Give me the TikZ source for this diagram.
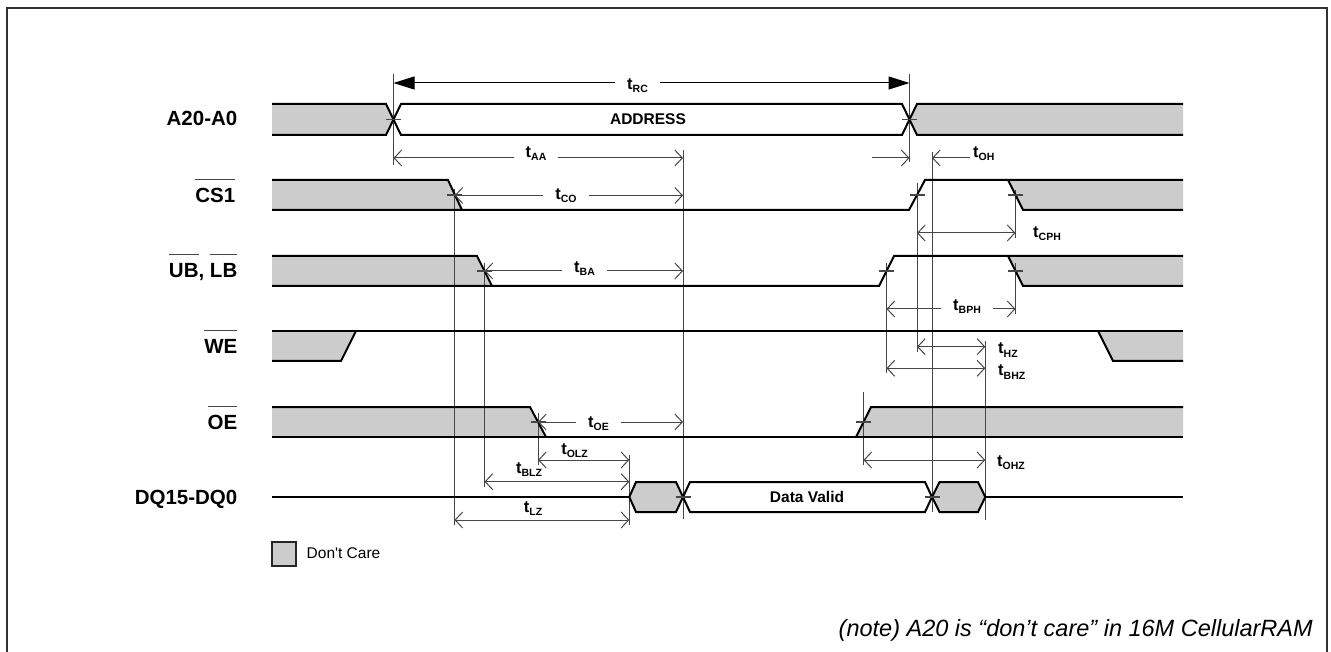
\documentclass[tikz,border=0pt]{standalone}
\usepackage{fontspec}
\setmainfont{Liberation Sans}
\usetikzlibrary{arrows.meta}
\definecolor{dcgray}{RGB}{204,204,204}
\definecolor{refline}{RGB}{70,70,70}
\newcommand{\tmlab}[1]{\fontsize{16.5}{18}\selectfont\textbf{t}\raisebox{-3pt}{\fontsize{10.5}{12}\selectfont\textbf{#1}}}
\newcommand{\ovl}[1]{\setbox0\hbox{#1}\rlap{\raisebox{22.5pt}{\color{refline}\rule{\wd0}{1pt}}}\box0}
\begin{document}
\begin{tikzpicture}[x=1pt,y=-1pt,
  sig/.style={line width=2pt,black,line join=miter},
  dcfill/.style={fill=dcgray},
  refl/.style={line width=1pt,refline},
  tick/.style={line width=1.3pt,refline},
  dimm/.style={line width=1pt,refline,{Straight Barb[length=7.5pt,width=16pt,line width=1pt]}-{Straight Barb[length=7.5pt,width=16pt,line width=1pt]}},
  dimr/.style={line width=1pt,refline,-{Straight Barb[length=7.5pt,width=16pt,line width=1pt]}},
  sname/.style={anchor=base east,inner sep=0pt,font=\fontsize{20.5}{24}\selectfont\bfseries},
  tlab/.style={anchor=base,inner sep=0pt},
  tlabgap/.style={anchor=base,fill=white,inner xsep=12pt,inner ysep=0pt},
  tlabr/.style={anchor=base west,inner sep=0pt},
  inlab/.style={inner sep=0pt,font=\fontsize{15.5}{18}\selectfont\bfseries}
]
\useasboundingbox (0,0) rectangle (1331,652);
% frame
\draw[line width=1.5pt,black!80] (7,652) -- (7,8) -- (1327,8) -- (1327,652);

% signal names
\node[sname] (nA) at (237.5,125.7) {A20-A0};
\node[sname] (nCS) at (235.5,202.3) {\ovl{CS1}};
\node[sname] (nUB) at (237.5,277.3) {\ovl{UB}, \ovl{LB}};
\node[sname] (nWE) at (237.5,353.3) {\ovl{WE}};
\node[sname] (nOE) at (237.5,429) {\ovl{OE}};
\node[sname] (nDQ) at (237.5,504) {DQ15-DQ0};

% ---------- grey fills ----------
\fill[dcgray] (272,104) -- (386,104) -- (393.5,119.5) -- (386,135) -- (272,135) -- cycle;
\fill[dcgray] (909.5,119.5) -- (917,104) -- (1183,104) -- (1183,135) -- (917,135) -- cycle;
\fill[dcgray] (272,180) -- (448,180) -- (462,210) -- (272,210) -- cycle;
\fill[dcgray] (1008,180) -- (1183,180) -- (1183,210) -- (1023,210) -- cycle;
\fill[dcgray] (272,256) -- (477,256) -- (492,286) -- (272,286) -- cycle;
\fill[dcgray] (1008,256) -- (1183,256) -- (1183,286) -- (1023,286) -- cycle;
\fill[dcgray] (272,331) -- (356,331) -- (341,361) -- (272,361) -- cycle;
\fill[dcgray] (1098,331) -- (1183,331) -- (1183,361) -- (1113,361) -- cycle;
\fill[dcgray] (272,407) -- (530,407) -- (546,437) -- (272,437) -- cycle;
\fill[dcgray] (871,407) -- (1183,407) -- (1183,437) -- (856,437) -- cycle;
\fill[dcgray] (629.3,497) -- (636,482) -- (676,482) -- (683,497) -- (676,512) -- (636,512) -- cycle;
\fill[dcgray] (932,497) -- (939.5,482) -- (978,482) -- (985.3,497) -- (978,512) -- (939.5,512) -- cycle;

% ---------- reference verticals ----------
\draw[refl] (393.5,74) -- (393.5,165);
\draw[refl] (909.5,74) -- (909.5,162);
\draw[refl] (683,150) -- (683,519);
\draw[refl] (932,152) -- (932,512);
\draw[refl] (454.5,189) -- (454.5,525);
\draw[refl] (484.5,263) -- (484.5,487);
\draw[refl] (538,413) -- (538,465);
\draw[refl] (629.3,455) -- (629.3,525);
\draw[refl] (917,183) -- (917,352);
\draw[refl] (1015.5,190) -- (1015.5,238);
\draw[refl] (1015.5,263) -- (1015.5,314);
\draw[refl] (886.5,263) -- (886.5,373);
\draw[refl] (985.3,341) -- (985.3,520);
\draw[refl] (863.5,392) -- (863.5,465);

% ---------- signals ----------
% A20-A0
\draw[sig] (272,104) -- (386,104) -- (401,135) -- (902,135) -- (917,104) -- (1183,104);
\draw[sig] (272,135) -- (386,135) -- (401,104) -- (902,104) -- (917,135) -- (1183,135);
\node[inlab] (addr) at (648,119.5) {ADDRESS};
% CS1
\draw[sig] (272,210) -- (909,210) -- (925,180) -- (1183,180);
\draw[sig] (272,180) -- (448,180) -- (462,210);
\draw[sig] (1008,180) -- (1023,210) -- (1183,210);
% UB LB
\draw[sig] (272,286) -- (879,286) -- (894,256) -- (1183,256);
\draw[sig] (272,256) -- (477,256) -- (492,286);
\draw[sig] (1008,256) -- (1023,286) -- (1183,286);
% WE
\draw[sig] (272,331) -- (1183,331);
\draw[sig] (272,361) -- (341,361) -- (356,331);
\draw[sig] (1098,331) -- (1113,361) -- (1183,361);
% OE
\draw[sig] (272,437) -- (1183,437);
\draw[sig] (272,407) -- (530,407) -- (546,437);
\draw[sig] (856,437) -- (871,407) -- (1183,407);
% DQ
\draw[sig] (272,497) -- (629.3,497);
\draw[sig] (629.3,497) -- (636,482) -- (676,482) -- (683,497) -- (676,512) -- (636,512) -- cycle;
\draw[sig] (683,497) -- (690,482) -- (925,482) -- (932,497) -- (925,512) -- (690,512) -- cycle;
\draw[sig] (932,497) -- (939.5,482) -- (978,482) -- (985.3,497) -- (978,512) -- (939.5,512) -- cycle;
\draw[sig] (985.3,497) -- (1183,497);
\node[inlab] (dv) at (807,497) {Data Valid};

% ---------- ticks ----------
\foreach \x/\y in {393.5/119.5, 909.5/119.5, 454.5/195, 917/195, 1015.5/195,
                   484.5/271, 886.5/271, 1015.5/271, 538/422, 863.5/422, 683/497, 932/497}
  \draw[tick] (\x-7.5,\y) -- (\x+7.5,\y);

% ---------- dimension arrows ----------
\draw[line width=1pt,black,{Triangle[length=21pt,width=13pt]}-{Triangle[length=21pt,width=13pt]}] (393.5,83) -- (909.5,83);
\node[tlabgap] (lRC) at (637.5,90) {\tmlab{RC}};
\draw[dimm] (393.5,158) -- (683,158);
\node[tlabgap] (lAA) at (536,158) {\tmlab{AA}};
\draw[dimr] (872,158) -- (909.5,158);
\draw[dimr] (970,158) -- (932,158);
\node[tlabr] (lOH) at (973,158) {\tmlab{OH}};
\draw[dimm] (454.5,195.5) -- (683,195.5);
\node[tlabgap] (lCO) at (566,200) {\tmlab{CO}};
\draw[dimm] (917,233) -- (1015.5,233);
\node[tlabr] (lCPH) at (1033,238) {\tmlab{CPH}};
\draw[dimm] (484.5,271) -- (683,271);
\node[tlabgap] (lBA) at (584.5,273) {\tmlab{BA}};
\draw[dimm] (886.5,309) -- (1015.5,309);
\node[tlabgap] (lBPH) at (967,311) {\tmlab{BPH}};
\draw[dimm] (917,346.7) -- (985.3,346.7);
\node[tlabr] (lHZ) at (998,354) {\tmlab{HZ}};
\draw[dimm] (886.5,368.3) -- (985.3,368.3);
\node[tlabr] (lBHZ) at (998,376) {\tmlab{BHZ}};
\draw[dimm] (538,422) -- (683,422);
\node[tlabgap] (lOE) at (598.5,427) {\tmlab{OE}};
\draw[dimm] (538,460) -- (629.3,460);
\node[tlab] (lOLZ) at (574.5,454) {\tmlab{OLZ}};
\draw[dimm] (863.5,460) -- (985.3,460);
\node[tlabr] (lOHZ) at (997,466) {\tmlab{OHZ}};
\draw[dimm] (484.5,481.7) -- (629.3,481.7);
\node[tlab] (lBLZ) at (529,473) {\tmlab{BLZ}};
\draw[dimm] (454.5,520) -- (629.3,520);
\node[tlab] (lLZ) at (533,512) {\tmlab{LZ}};

% ---------- legend ----------
\draw[line width=1.6pt,black!85,fill=dcgray] (272,542) rectangle (296,566);
\node[anchor=base west,inner sep=0pt,font=\fontsize{15.5}{18}\selectfont] (leg) at (306.5,558.3) {Don\textquotesingle t Care};

% ---------- note ----------
\node[anchor=base east,inner sep=0pt,font=\fontsize{23.5}{28}\selectfont\itshape] (note) at (1313,636) {(note) A20 is “don’t care” in 16M CellularRAM};
\end{tikzpicture}
\end{document}
